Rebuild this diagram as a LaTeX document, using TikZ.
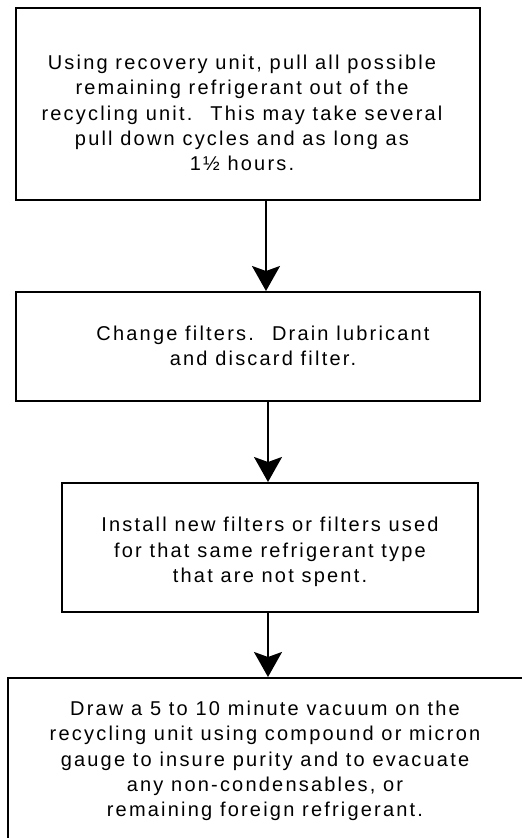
\documentclass[tikz,border=0pt]{standalone}
\usepackage{fontspec}
\setmainfont{Liberation Sans}[LetterSpace=11]
\usetikzlibrary{arrows.meta}
\tikzset{
  box/.style={draw, line width=2.4pt, rectangle, inner sep=0pt, anchor=north west},
  txt/.style={align=center, font=\fontsize{20pt}{25.3pt}\selectfont, inner sep=0pt},
  arr/.style={line width=2pt, -{Stealth[length=25pt,width=28pt,inset=5pt]}}
}
\begin{document}
\begin{tikzpicture}[x=1pt,y=-1pt]
\useasboundingbox (0,0) rectangle (522,838);
\clip (0,0) rectangle (522,838);
\node[box, minimum width=464pt, minimum height=192pt] (b1) at (15,7) {};
\node[box, minimum width=464pt, minimum height=109pt] (b2) at (15,291) {};
\node[box, minimum width=416pt, minimum height=129pt] (b3) at (61,482) {};
\node[box, minimum width=517pt, minimum height=164pt] (b4) at (7,677) {};
\node[txt] (t1) at (242,113) {Using recovery unit, pull all possible\\remaining refrigerant out of the\\recycling unit.~ This may take several\\pull down cycles and as long as\\1½ hours.};
\node[txt] (t2) at (263,346) {Change filters.~ Drain lubricant\\and discard filter.};
\node[txt] (t3) at (270,552) {Install new filters or filters used\\for that same refrigerant type\\that are not spent.};
\node[txt] (t4) at (265,761) {Draw a 5 to 10 minute vacuum on the\\recycling unit using compound or micron\\gauge to insure purity and to evacuate\\any non-condensables, or\\remaining foreign refrigerant.};
\draw[arr] (b1.south -| 266,0) -- (b2.north -| 266,0);
\draw[arr] (b2.south -| 268,0) -- (b3.north -| 268,0);
\draw[arr] (b3.south -| 268,0) -- (b4.north -| 268,0);
\end{tikzpicture}
\end{document}
